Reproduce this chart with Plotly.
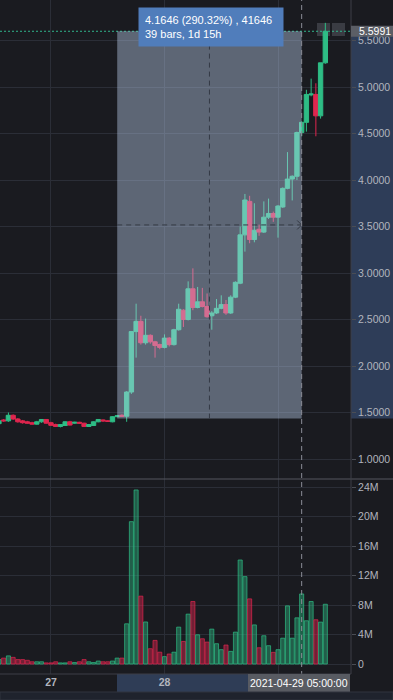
import pandas as pd
import plotly.graph_objects as go

# ---------------- data (hourly bars, 2021-04-26 13:00 .. 2021-04-29 10:00) ----------------
times = pd.date_range("2021-04-26 13:00", periods=70, freq="h")

opens = [1.38, 1.42, 1.41, 1.47, 1.43, 1.41, 1.40, 1.39, 1.375, 1.40,
         1.425, 1.39, 1.37, 1.35, 1.36, 1.40, 1.385, 1.395, 1.385, 1.35,
         1.36, 1.40, 1.42, 1.41, 1.40, 1.455, 1.47, 1.46, 1.72, 2.37,
         2.48, 2.25, 2.33, 2.26, 2.23, 2.20, 2.30, 2.23, 2.39, 2.60,
         2.50, 2.83, 2.63, 2.69, 2.64, 2.54, 2.57, 2.62, 2.66, 2.57,
         2.74, 2.89, 3.41, 3.77, 3.36, 3.47, 3.44, 3.60, 3.64, 3.60,
         3.71, 3.91, 4.01, 4.04, 4.51, 4.62, 4.915, 4.92, 4.69, 5.26]
highs = [1.42, 1.43, 1.50, 1.48, 1.44, 1.42, 1.41, 1.40, 1.41, 1.43,
         1.43, 1.40, 1.38, 1.375, 1.405, 1.41, 1.40, 1.40, 1.39, 1.375,
         1.405, 1.43, 1.425, 1.415, 1.46, 1.47, 1.48, 1.73, 2.37, 2.67,
         2.54, 2.51, 2.34, 2.27, 2.24, 2.34, 2.31, 2.40, 2.67, 2.61,
         2.91, 3.05, 2.85, 2.84, 2.78, 2.59, 2.72, 2.76, 2.71, 2.76,
         2.91, 3.50, 3.85, 3.83, 3.75, 3.52, 3.77, 3.80, 3.66, 3.73,
         3.92, 4.30, 4.05, 4.52, 4.63, 4.97, 5.09, 5.04, 5.26, 5.69]
lows = [1.37, 1.40, 1.40, 1.42, 1.39, 1.38, 1.38, 1.37, 1.37, 1.39,
        1.38, 1.36, 1.345, 1.34, 1.355, 1.36, 1.38, 1.38, 1.345, 1.345,
        1.355, 1.395, 1.40, 1.40, 1.395, 1.45, 1.455, 1.40, 1.70, 2.09,
        2.23, 2.23, 2.24, 2.09, 2.18, 2.19, 2.21, 2.22, 2.38, 2.42,
        2.49, 2.60, 2.62, 2.63, 2.52, 2.39, 2.56, 2.61, 2.55, 2.56,
        2.73, 2.88, 3.23, 3.32, 3.33, 3.40, 3.43, 3.58, 3.55, 3.38,
        3.70, 3.90, 3.78, 4.00, 4.47, 4.52, 4.90, 4.47, 4.66, 5.25]
closes = [1.41, 1.41, 1.47, 1.43, 1.40, 1.39, 1.385, 1.375, 1.40, 1.425,
          1.385, 1.362, 1.35, 1.37, 1.40, 1.365, 1.395, 1.385, 1.35, 1.37,
          1.40, 1.425, 1.41, 1.405, 1.455, 1.465, 1.46, 1.72, 2.37, 2.48,
          2.25, 2.33, 2.26, 2.22, 2.20, 2.30, 2.23, 2.39, 2.61, 2.50,
          2.83, 2.63, 2.69, 2.64, 2.53, 2.57, 2.62, 2.66, 2.57, 2.74,
          2.90, 3.41, 3.785, 3.36, 3.46, 3.44, 3.60, 3.64, 3.60, 3.72,
          3.91, 4.01, 4.04, 4.51, 4.62, 4.92, 4.925, 4.69, 5.26, 5.5991]
volumes_m = [0.6, 0.8, 1.1, 0.9, 0.6, 0.6, 0.5, 0.3, 0.3, 0.3,
             0.15, 0.15, 0.3, 0.15, 0.15, 0.3, 0.2, 0.3, 0.6, 0.3,
             0.2, 0.4, 0.3, 0.3, 0.4, 0.8, 0.8, 5.45, 19.3, 23.6,
             9.2, 5.7, 2.07, 3.2, 1.6, 1.0, 1.35, 1.6, 5.0, 3.06,
             6.76, 8.47, 3.96, 3.42, 2.97, 4.73, 2.75, 1.94, 2.57, 1.71,
             4.32, 14.1, 11.85, 8.83, 5.3, 2.2, 3.83, 2.48, 1.58, 1.94,
             3.5, 7.88, 3.5, 6.26, 9.5, 5.86, 8.47, 6.0, 5.68, 8.1]

price_ticks = [1.0, 1.5, 2.0, 2.5, 3.0, 3.5, 4.0, 4.5, 5.0, 5.5]
volume_ticks = [0, 4, 8, 12, 16, 20, 24]
volume_tick_text = ["0", "4M", "8M", "12M", "16M", "20M", "24M"]
day_ticks = ["2021-04-27 00:00", "2021-04-28 00:00", "2021-04-29 00:00"]
day_tick_text = ["<b>27</b>", "<b>28</b>", ""]

measure_start = "2021-04-27 14:00"
measure_end = "2021-04-29 05:00"
measure_low = 1.4345
measure_high = 5.5991
last_price = 5.5991
tooltip_text = "4.1646 (290.32%) , 41646<br>39 bars, 1d 15h"
crosshair_label = "2021-04-29 05:00:00"

# ---------------- styling ----------------
W, H = 393, 700
BG = "#1a1b20"
GRID = "#2b2e37"
TXT = "#b2b5be"
UP = "#2ebd85"
DN = "#e0264f"
FONT = "Liberation Sans"

base = pd.Timestamp("2021-04-28 00:00")
px_per_h = 4.73
x0_px = 164.5  # pixel of 28 00:00
plot_right = 351


def t_at(px):
    return base + pd.Timedelta(hours=(px - x0_px) / px_per_h)


xr = [t_at(0), t_at(plot_right)]
price_range = [1 - 20 / 93, 1 + 459 / 93]
vol_range = [-10 / 7.375, 185 / 7.375]
xdom = [0, plot_right / W]
ydom_price = [1 - 479 / H, 1]
ydom_vol = [26 / H, 1 - 479 / H]

vol_colors = ["rgba(46,189,133,0.42)" if c >= o else "rgba(224,38,79,0.45)" for o, c in zip(opens, closes)]
vol_lines = ["rgba(46,189,133,0.7)" if c >= o else "rgba(224,38,79,0.7)" for o, c in zip(opens, closes)]

fig = go.Figure()
fig.add_trace(go.Candlestick(
    x=times, open=opens, high=highs, low=lows, close=closes,
    increasing=dict(line=dict(color=UP, width=1), fillcolor=UP),
    decreasing=dict(line=dict(color=DN, width=1), fillcolor=DN),
    whiskerwidth=0, xaxis="x", yaxis="y", hoverinfo="skip",
))
fig.add_trace(go.Bar(
    x=times, y=volumes_m, marker=dict(color=vol_colors, line=dict(color=vol_lines, width=1)),
    width=0.86 * 3600 * 1000, xaxis="x2", yaxis="y2", hoverinfo="skip",
))

shapes = []
# axis highlight (price) and x highlight
shapes.append(dict(type="rect", xref="paper", yref="y", x0=plot_right / W, x1=1,
                   y0=measure_low, y1=measure_high, fillcolor="#2e3d58", line_width=0, layer="below"))
shapes.append(dict(type="rect", xref="paper", yref="paper", x0=117 / W, x1=248 / W,
                   y0=8 / H, y1=26 / H, fillcolor="#2f3d56", line_width=0, layer="below"))
# small chart buttons top right
for bx in (317, 332):
    shapes.append(dict(type="rect", xref="paper", yref="paper", x0=bx / W, x1=(bx + 13) / W,
                       y0=1 - 36 / H, y1=1 - 23 / H, fillcolor="#3a3c43", line_width=0, layer="below"))
# last price dotted line
shapes.append(dict(type="line", xref="paper", yref="y", x0=0, x1=plot_right / W, y0=last_price, y1=last_price,
                   line=dict(color="#2fb58c", width=1, dash="2px,2px"), layer="above"))
# measure rectangle overlay
shapes.append(dict(type="rect", xref="x", yref="y", x0=measure_start, x1=measure_end,
                   y0=measure_low, y1=measure_high, fillcolor="rgba(195,215,245,0.40)", line_width=0, layer="above"))
mid_p = (measure_low + measure_high) / 2
t_s, t_e = pd.Timestamp(measure_start), pd.Timestamp(measure_end)
t_mid = t_s + (t_e - t_s) / 2
shapes.append(dict(type="line", xref="x", yref="y", x0=t_s, x1=t_e, y0=mid_p, y1=mid_p,
                   line=dict(color="#343944", width=1, dash="5px,4px"), layer="above"))
shapes.append(dict(type="line", xref="x", yref="y", x0=t_mid, x1=t_mid, y0=measure_low, y1=measure_high,
                   line=dict(color="#343944", width=1, dash="5px,4px"), layer="above"))
ah = pd.Timedelta(hours=4.5 / px_per_h)
for d in (1, -1):
    shapes.append(dict(type="line", xref="x", yref="y", x0=t_e - ah, x1=t_e, y0=mid_p + d * 4.5 / 93, y1=mid_p,
                       line=dict(color="#343944", width=1), layer="above"))
# crosshair vertical
shapes.append(dict(type="line", xref="x", yref="paper", x0=t_e, x1=t_e, y0=24 / H, y1=1,
                   line=dict(color="#8a8d96", width=1, dash="5px,4px"), layer="above"))
# pane borders
shapes.append(dict(type="line", xref="paper", yref="paper", x0=0, x1=1, y0=1 - 479 / H, y1=1 - 479 / H,
                   line=dict(color="#55575e", width=1), layer="above"))
shapes.append(dict(type="line", xref="paper", yref="paper", x0=0, x1=plot_right / W, y0=26 / H, y1=26 / H,
                   line=dict(color="#3c3f47", width=1), layer="above"))
shapes.append(dict(type="line", xref="paper", yref="paper", x0=plot_right / W, x1=plot_right / W, y0=26 / H, y1=1,
                   line=dict(color="#3c3f47", width=1), layer="above"))
# last price label box
shapes.append(dict(type="rect", xref="paper", yref="y", x0=plot_right / W, x1=1,
                   y0=last_price - 5.5 / 93, y1=last_price + 5.5 / 93, fillcolor="#5b5e66", line_width=0, layer="above"))
# crosshair date box
shapes.append(dict(type="rect", xref="paper", yref="paper", x0=248 / W, x1=350 / W, y0=8 / H, y1=26 / H,
                   fillcolor="#585b62", line_width=0, layer="above"))
# bottom strip
shapes.append(dict(type="rect", xref="paper", yref="paper", x0=0, x1=1, y0=0, y1=8 / H,
                   fillcolor="#1f232d", line=dict(color="#30343e", width=1), layer="above"))

annotations = [
    dict(xref="paper", yref="paper", x=138 / W, y=1 - 7 / H, xanchor="left", yanchor="top",
         text=tooltip_text, showarrow=False, align="left", bgcolor="#507dbb", borderpad=6,
         width=132, font=dict(family=FONT, size=11, color="#ffffff")),
    dict(xref="paper", yref="y", x=357 / W, y=last_price, xanchor="left", yanchor="middle",
         text=f"{last_price:.4f}", showarrow=False, font=dict(family=FONT, size=10.5, color="#ffffff")),
    dict(xref="paper", yref="paper", x=299 / W, y=(H - 683) / H, xanchor="center", yanchor="middle",
         text=crosshair_label, showarrow=False, font=dict(family=FONT, size=10.5, color="#ffffff")),
    dict(xref="paper", yref="paper", x=175 / W, y=-4 / H, xanchor="center", yanchor="middle",
         text="20:13:36 (UTC+8)", showarrow=False, font=dict(family=FONT, size=11, color="#9598a1")),
]

axis_common = dict(showgrid=True, gridcolor=GRID, gridwidth=1, zeroline=False, showline=False)

fig.update_layout(
    width=W, height=H, margin=dict(l=0, r=0, t=0, b=0),
    paper_bgcolor=BG, plot_bgcolor=BG, showlegend=False, hovermode=False,
    boxgap=0.08, boxgroupgap=0, bargap=0.1,
    font=dict(family=FONT, size=10.5, color=TXT),
    xaxis=dict(domain=xdom, anchor="y", type="date", range=xr, rangeslider=dict(visible=False),
               tickvals=day_ticks, ticktext=day_tick_text, showticklabels=False, ticks="", **axis_common),
    xaxis2=dict(domain=xdom, anchor="y2", type="date", range=xr, matches="x",
                tickvals=day_ticks, ticktext=day_tick_text, showticklabels=True, ticks="",
                tickfont=dict(family=FONT, size=10.5, color=TXT), **axis_common),
    yaxis=dict(domain=ydom_price, anchor="x", side="right", range=price_range,
               tickvals=price_ticks, ticktext=[f"{v:.4f}" for v in price_ticks],
               ticks="outside", ticklen=4, tickcolor="#4a4d55",
               tickfont=dict(family=FONT, size=10.5, color=TXT), **axis_common),
    yaxis2=dict(domain=ydom_vol, anchor="x2", side="right", range=vol_range,
                tickvals=volume_ticks, ticktext=volume_tick_text,
                ticks="outside", ticklen=4, tickcolor="#4a4d55",
                tickfont=dict(family=FONT, size=10.5, color=TXT), **axis_common),
    shapes=shapes, annotations=annotations,
)

fig.write_html("out.html")
